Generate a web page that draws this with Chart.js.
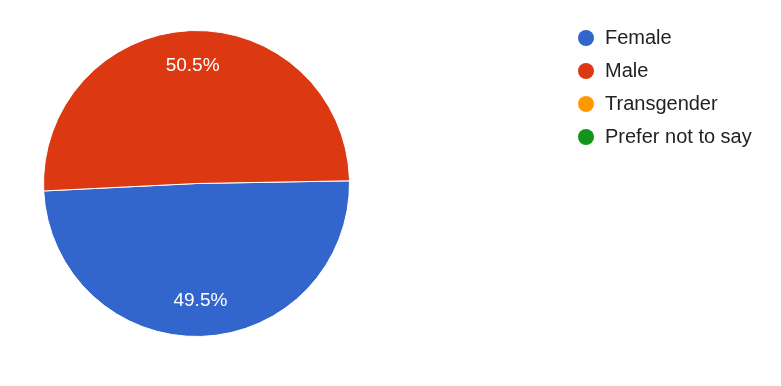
<!DOCTYPE html>
<html>
<head>
<meta charset="utf-8">
<script src="https://cdn.jsdelivr.net/npm/chart.js@4.4.0/dist/chart.umd.min.js"></script>
<style>
  html, body { margin: 0; padding: 0; background: #fff; }
  #wrap { width: 781px; height: 386px; }
</style>
</head>
<body>
<div id="wrap"><canvas id="chart" width="781" height="386"></canvas></div>
<script>
const labels = ["Female", "Male", "Transgender", "Prefer not to say"];
const percents = [49.5, 50.5, 0, 0];
const colors = ["#3366cc", "#dc3912", "#ff9900", "#109618"];

// percentage text inside each slice
const sliceLabels = {
  id: "sliceLabels",
  afterDatasetsDraw(chart) {
    const ctx = chart.ctx;
    const meta = chart.getDatasetMeta(0);
    ctx.save();
    ctx.font = "19px 'Liberation Sans', Arial, sans-serif";
    ctx.fillStyle = "#ffffff";
    ctx.textAlign = "center";
    ctx.textBaseline = "middle";
    meta.data.forEach((arc, i) => {
      const v = percents[i];
      if (!v) return;
      const mid = (arc.startAngle + arc.endAngle) / 2;
      const r = arc.outerRadius * 0.77;
      ctx.fillText(v.toFixed(1) + "%", arc.x + Math.cos(mid) * r, arc.y + Math.sin(mid) * r);
    });
    ctx.restore();
  }
};

// legend column on the right
const sideLegend = {
  id: "sideLegend",
  afterDraw(chart) {
    const ctx = chart.ctx;
    ctx.save();
    ctx.font = "20px 'Liberation Sans', Arial, sans-serif";
    ctx.textBaseline = "middle";
    labels.forEach((name, i) => {
      const y = 38 + i * 33;
      ctx.beginPath();
      ctx.arc(586, y, 8, 0, Math.PI * 2);
      ctx.fillStyle = colors[i];
      ctx.fill();
      ctx.fillStyle = "#222222";
      ctx.fillText(name, 605, y);
    });
    ctx.restore();
  }
};

new Chart(document.getElementById("chart"), {
  type: "pie",
  data: {
    labels: labels,
    datasets: [{
      data: percents,
      backgroundColor: colors,
      borderColor: "#ffffff",
      borderWidth: 1
    }]
  },
  options: {
    responsive: false,
    animation: false,
    rotation: 89,
    layout: { padding: { left: 43, top: 30, right: 431, bottom: 49 } },
    plugins: {
      legend: { display: false },
      tooltip: { enabled: false }
    }
  },
  plugins: [sliceLabels, sideLegend]
});
</script>
</body>
</html>
